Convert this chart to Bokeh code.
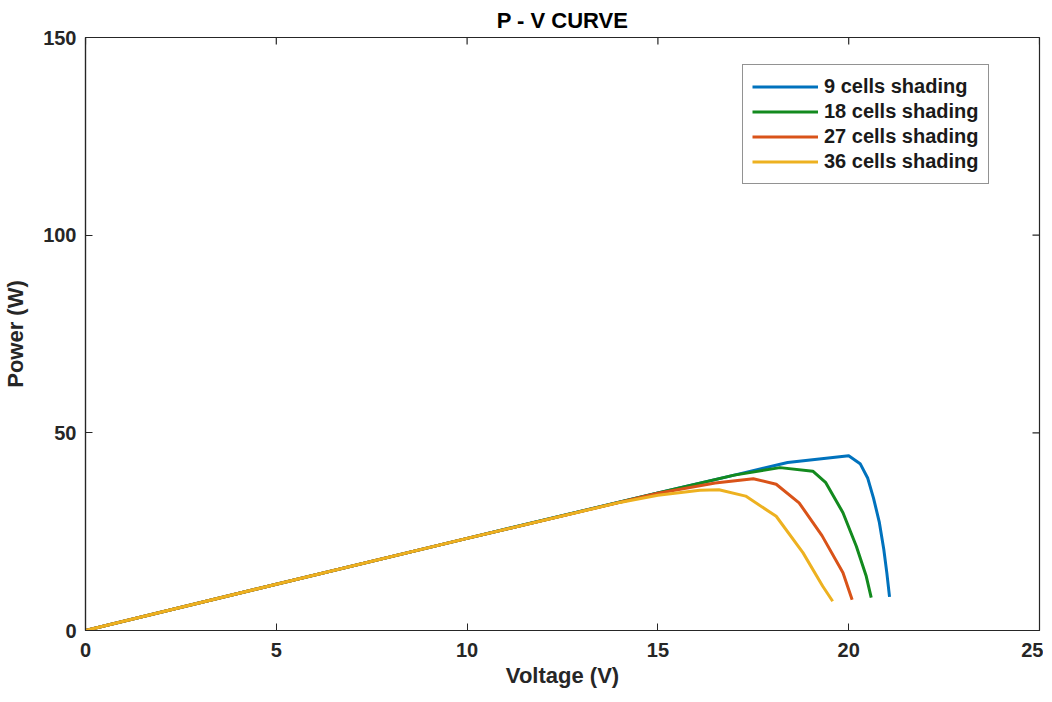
import math
from bokeh.plotting import figure
from bokeh.models import Range1d, Legend, LegendItem, FixedTicker
from bokeh.embed import file_html
from bokeh.resources import INLINE

# Data
v_9 = [0, 5, 10, 15, 17, 18.4, 20.0, 20.3, 20.5, 20.65, 20.8, 20.92, 21.0, 21.07]
p_9 = [0, 11.7, 23.3, 34.8, 39.3, 42.5, 44.2, 42.2, 38.5, 33.5, 27.5, 20.5, 14.5, 8.5]

v_18 = [0, 5, 10, 15, 17, 18.2, 19.06, 19.4, 19.85, 20.2, 20.46, 20.59]
p_18 = [0, 11.7, 23.3, 34.8, 39.3, 41.2, 40.3, 37.4, 29.8, 21.3, 13.7, 8.3]

v_27 = [0, 5, 10, 15, 16.5, 17.5, 18.1, 18.7, 19.3, 19.85, 20.09]
p_27 = [0, 11.7, 23.3, 34.7, 37.3, 38.4, 37.0, 32.3, 24.0, 14.6, 7.8]

v_36 = [0, 5, 10, 14, 15, 16.1, 16.6, 17.3, 18.1, 18.8, 19.32, 19.58]
p_36 = [0, 11.7, 23.3, 32.4, 34.2, 35.5, 35.6, 34.0, 28.9, 19.7, 11.2, 7.4]

labels = ["9 cells shading", "18 cells shading", "27 cells shading", "36 cells shading"]
colors = ["#0072BD", "#138A1E", "#D95319", "#EDB120"]

x_ticks = [0, 5, 10, 15, 20, 25]
y_ticks = [0, 50, 100, 150]
X_MAX = 25
Y_MAX = 150

FONT = "Liberation Sans"
AX = "#262626"

p = figure(frame_width=954, frame_height=593, output_backend="svg", toolbar_location=None,
           x_range=Range1d(0, X_MAX), y_range=Range1d(0, Y_MAX),
           min_border_left=78, min_border_right=4, min_border_top=30, min_border_bottom=63,
           title="P - V CURVE")
p.title.align = "center"
p.title.text_font = FONT
p.title.text_font_size = "22px"
p.title.text_font_style = "bold"
p.title.text_color = "#000000"

p.xgrid.visible = False
p.ygrid.visible = False
p.outline_line_color = AX
p.outline_line_width = 1.2

def style_axis(ax):
    ax.axis_line_color = AX
    ax.axis_line_width = 1.2
    ax.major_tick_in = 7
    ax.major_tick_out = 0
    ax.major_tick_line_color = AX
    ax.minor_tick_line_color = None
    ax.major_label_text_font = FONT
    ax.major_label_text_font_size = "20px"
    ax.major_label_text_font_style = "bold"
    ax.major_label_text_color = "#262626"
    ax.axis_label_text_font = FONT
    ax.axis_label_text_font_size = "22px"
    ax.axis_label_text_font_style = "bold"
    ax.axis_label_text_color = "#262626"

p.xaxis.ticker = FixedTicker(ticks=x_ticks)
p.yaxis.ticker = FixedTicker(ticks=y_ticks)
p.xaxis.axis_label = "Voltage (V)"
p.yaxis.axis_label = "Power (W)"
style_axis(p.xaxis[0])
style_axis(p.yaxis[0])
p.xaxis.major_label_standoff = 12
p.yaxis.major_label_standoff = 9
p.xaxis.axis_label_standoff = 3
p.yaxis.axis_label_standoff = 12

# inward ticks on the top and right edges of the box (MATLAB style)
p.ray(x=x_ticks, y=[Y_MAX] * len(x_ticks), length=7, length_units="screen",
      angle=-math.pi / 2, line_color=AX, line_width=1.2)
p.ray(x=[X_MAX] * len(y_ticks), y=y_ticks, length=7, length_units="screen",
      angle=math.pi, line_color=AX, line_width=1.2)

xs = [v_9, v_18, v_27, v_36]
ys = [p_9, p_18, p_27, p_36]
items = []
for x, y, c, lab in zip(xs, ys, colors, labels):
    r = p.line(x, y, line_color=c, line_width=3, line_join="round")
    items.append(LegendItem(label=lab, renderers=[r]))

legend = Legend(items=items, location=(657, 446), orientation="vertical")
legend.label_text_font = FONT
legend.label_text_font_size = "20px"
legend.label_text_font_style = "bold"
legend.label_text_color = "#1a1a1a"
legend.glyph_width = 66
legend.glyph_height = 25
legend.label_height = 25
legend.label_standoff = 6
legend.spacing = 0
legend.padding = 9
legend.margin = 0
legend.border_line_color = AX
legend.border_line_width = 1.2
legend.background_fill_color = "white"
legend.background_fill_alpha = 1
p.add_layout(legend, "center")

open("out.html", "w").write(file_html(p, INLINE))
